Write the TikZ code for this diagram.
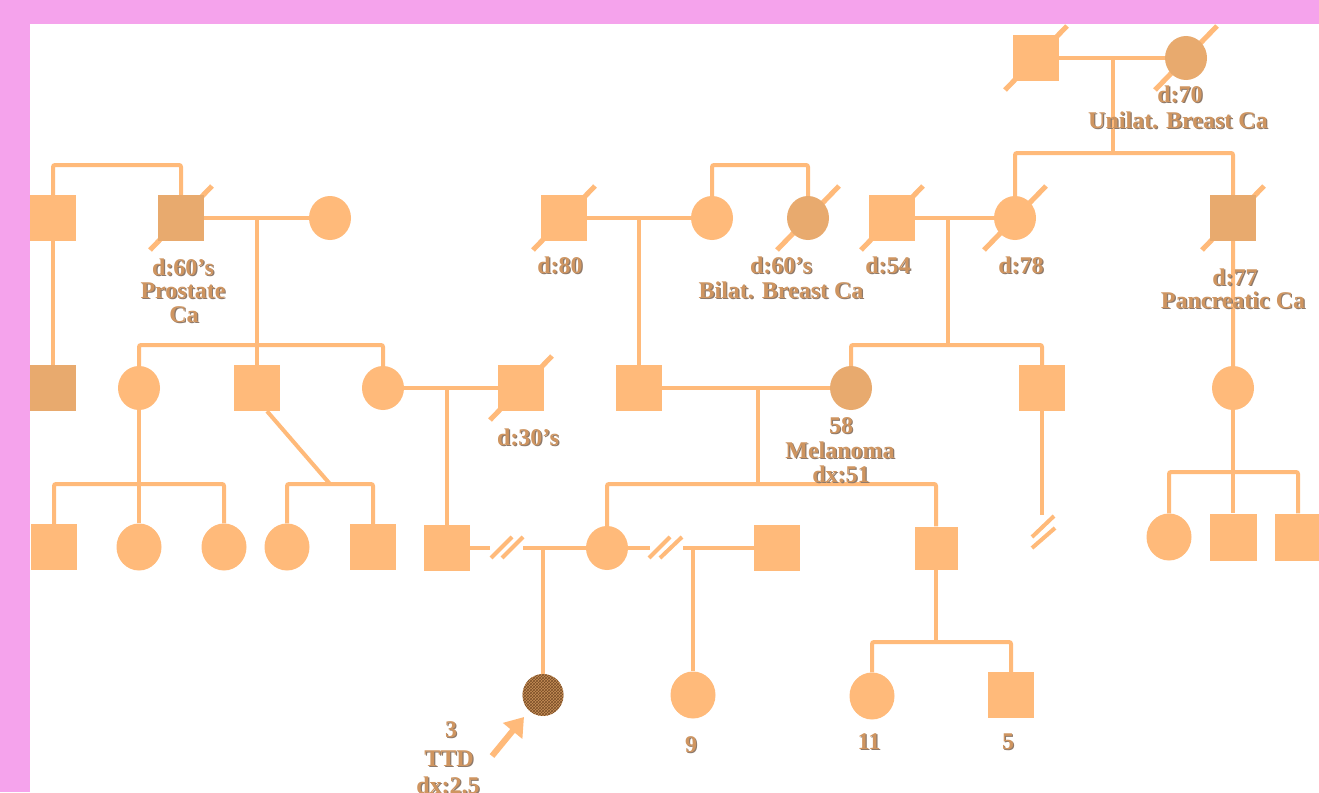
\documentclass[tikz,border=0pt]{standalone}
\usepackage{fontspec}
\setmainfont{Liberation Serif}
\usetikzlibrary{shapes.geometric,patterns,arrows.meta,backgrounds}
\definecolor{bgpink}{HTML}{F5A3EC}
\definecolor{po}{HTML}{FFBA7A}
\definecolor{pd}{HTML}{E8AA6E}
\definecolor{tc}{HTML}{CF9560}
\definecolor{ts}{HTML}{8E7A6C}
\definecolor{pb}{HTML}{C89058}
\definecolor{pbd}{HTML}{7A4E28}
\newcommand{\shd}[1]{\makebox[0pt][l]{\kern1.2pt\raisebox{-1.2pt}{\textcolor{ts}{#1}}}#1}
\begin{document}
\begin{tikzpicture}[x=1pt,y=-1pt,
 sq/.style={rectangle,minimum size=46pt,inner sep=0pt,fill=po},
 ci/.style={ellipse,minimum width=42pt,minimum height=44pt,inner sep=0pt,fill=po},
 bigci/.style={ci,minimum width=45pt,minimum height=47pt},
 aff/.style={fill=pd},
 ln/.style={draw=po,line width=4pt,rounded corners=2pt},
 dslash/.style={draw=po,line width=5pt},
 brk/.style={draw=po,line width=4pt},
 arr/.style={draw=po,line width=6pt,-{Triangle[length=18pt,width=24pt]}},
 lab/.style={font=\fontsize{24}{24}\selectfont\bfseries,text=tc,anchor=base,inner sep=0pt},
 ]
\useasboundingbox (0,0) rectangle (1319,792);
% Generation I
\node[sq] (a1) at (1036,58) {};
\node[ci,aff] (a2) at (1186,58) {};
% Generation II
\node[sq] (b1) at (53,218) {};
\node[sq,aff] (b2) at (181,218) {};
\node[ci] (b3) at (330,218) {};
\node[sq] (e1) at (564,218) {};
\node[ci] (e2) at (712,218) {};
\node[ci,aff] (e3) at (808,218) {};
\node[sq] (h1) at (892,218) {};
\node[ci] (h2) at (1015,218) {};
\node[sq,aff] (j1) at (1233,218) {};
% Generation III
\node[sq,aff] (c1) at (53,388) {};
\node[ci] (c2) at (139,388) {};
\node[sq] (c3) at (257,388) {};
\node[ci] (c4) at (383,388) {};
\node[sq] (c5) at (521,388) {};
\node[sq] (f1) at (639,388) {};
\node[ci,aff] (f2) at (851,388) {};
\node[sq] (i1) at (1042,388) {};
\node[ci] (j2) at (1233,388) {};
% Generation IV
\node[sq] (d1) at (54,547) {};
\node[bigci] (d2) at (139,547) {};
\node[bigci] (d3) at (224,547) {};
\node[bigci] (d4) at (287,547) {};
\node[sq] (d5) at (373,547) {};
\node[sq] (d6) at (447,548) {};
\node[ci] (g2) at (607,548) {};
\node[sq] (g3) at (777,548) {};
\node[sq,minimum size=43pt] (g4) at (936,548) {};
\node[bigci] (k1) at (1169,537) {};
\node[sq,minimum size=47pt] (k2) at (1233,537) {};
\node[sq,minimum size=47pt] (k3) at (1298,537) {};
% Generation V
\node[ci,minimum width=41pt,minimum height=42pt,preaction={fill=pb},pattern=crosshatch,pattern color=pbd] (m1) at (543,695) {};
\node[bigci] (m2) at (693,695) {};
\node[bigci] (n1) at (872,696) {};
\node[sq] (n2) at (1011,695) {};
% junction coordinates
\coordinate (am) at (1113,58);
\coordinate (asib) at (1113,153);
\coordinate (bsib) at (117,165);
\coordinate (bm) at (257,218);
\coordinate (bsib2) at (257,345);
\coordinate (cm) at (447,388);
\coordinate (csib) at (139,484);
\coordinate (tw) at (330,484);
\coordinate (esib) at (760,165);
\coordinate (em) at (639,218);
\coordinate (fm) at (758,388);
\coordinate (fsib) at (758,484);
\coordinate (hm) at (948,218);
\coordinate (hsib) at (948,345);
\coordinate (ibrk) at (1042,515);
\coordinate (jsib) at (1233,472);
\coordinate (gsib) at (936,642);
\coordinate (dm) at (543,548);
\coordinate (gm) at (693,548);
\coordinate (br1a) at (490,548);
\coordinate (br1b) at (523,548);
\coordinate (br2a) at (650,548);
\coordinate (br2b) at (683,548);
\coordinate (arT) at (492,756);
\coordinate (arH) at (524,717);
% labels
\node[lab] (l1) at (1180,102) {\shd{d:70}};
\node[lab] (l2) at (1178,128) {\shd{Unilat. Breast Ca}};
\node[lab] (l3) at (183,275) {\shd{d:60’s}};
\node[lab] (l4) at (183,298) {\shd{Prostate}};
\node[lab] (l5) at (184,322) {\shd{Ca}};
\node[lab] (l6) at (560,273) {\shd{d:80}};
\node[lab] (l7) at (781,273) {\shd{d:60’s}};
\node[lab] (l8) at (781,298) {\shd{Bilat. Breast Ca}};
\node[lab] (l9) at (888,273) {\shd{d:54}};
\node[lab] (l10) at (1021,273) {\shd{d:78}};
\node[lab] (l11) at (1235,285) {\shd{d:77}};
\node[lab] (l12) at (1233,308) {\shd{Pancreatic Ca}};
\node[lab] (l13) at (528,445) {\shd{d:30’s}};
\node[lab] (l14) at (841,433) {\shd{58}};
\node[lab] (l15) at (840,458) {\shd{Melanoma}};
\node[lab] (l16) at (841,482) {\shd{dx:51}};
\node[lab] (l17) at (451,737) {\shd{3}};
\node[lab] (l18) at (449,766) {\shd{TTD}};
\node[lab] (l19) at (448,793) {\shd{dx:2.5}};
\node[lab] (l20) at (691,752) {\shd{9}};
\node[lab] (l21) at (869,749) {\shd{11}};
\node[lab] (l22) at (1008,749) {\shd{5}};
\draw[arr] (arT) -- (arH);
\begin{pgfonlayer}{background}
\fill[bgpink] (0,0) rectangle (1319,792);
\fill[white] (30,24) rectangle (1319,792);
% deceased slashes
\foreach \n in {a1,a2,b2,c5,e1,e3,h1,h2,j1}
  \draw[dslash,shift={(\n.center)}] (-31,32) -- (31,-32);
% connectors
\draw[ln] (a1.east) -- (a2.west);
\draw[ln] (am) -- (asib);
\draw[ln] (h2.north) |- (asib) -| (j2.north);
\draw[ln] (b1.north) |- (bsib) -| (b2.north);
\draw[ln] (b1.south) -- (c1.north);
\draw[ln] (b2.east) -- (b3.west);
\draw[ln] (bm) -- (bsib2);
\draw[ln] (c2.north) |- (bsib2) -| (c4.north);
\draw[ln] (bsib2) -- (c3.north);
\draw[ln] (c4.east) -- (c5.west);
\draw[ln] (cm) -- (d6.north);
\draw[ln] (c2.south) -- (d2.north);
\draw[ln] (d1.north) |- (csib) -| (d3.north);
\draw[ln] (d4.north) |- (tw) -| (d5.north);
\draw[ln] ([xshift=10pt]c3.south) -- (tw);
\draw[ln] (e2.north) |- (esib) -| (e3.north);
\draw[ln] (e1.east) -- (e2.west);
\draw[ln] (em) -- (f1.north);
\draw[ln] (f1.east) -- (f2.west);
\draw[ln] (fm) -- (fsib);
\draw[ln] (g2.north) |- (fsib) -| (g4.north);
\draw[ln] (h1.east) -- (h2.west);
\draw[ln] (hm) -- (hsib);
\draw[ln] (f2.north) |- (hsib) -| (i1.north);
\draw[ln] (i1.south) -- (ibrk);
\draw[brk] (1032,537) -- (1054,516);
\draw[brk] (1032,548) -- (1055,528);
\draw[ln] (j2.south) -- (k2.north);
\draw[ln] (k1.north) |- (jsib) -| (k3.north);
\draw[ln] (d6.east) -- (br1a);
\draw[brk] (491,558) -- (512,537);
\draw[brk] (502,558) -- (523,537);
\draw[ln] (br1b) -- (g2.west);
\draw[ln] (dm) -- (m1.north);
\draw[ln] (g2.east) -- (br2a);
\draw[brk] (649,558) -- (670,537);
\draw[brk] (660,558) -- (682,537);
\draw[ln] (br2b) -- (g3.west);
\draw[ln] (gm) -- (m2.north);
\draw[ln] (g4.south) -- (gsib);
\draw[ln] (n1.north) |- (gsib) -| (n2.north);
\end{pgfonlayer}
\end{tikzpicture}
\end{document}
